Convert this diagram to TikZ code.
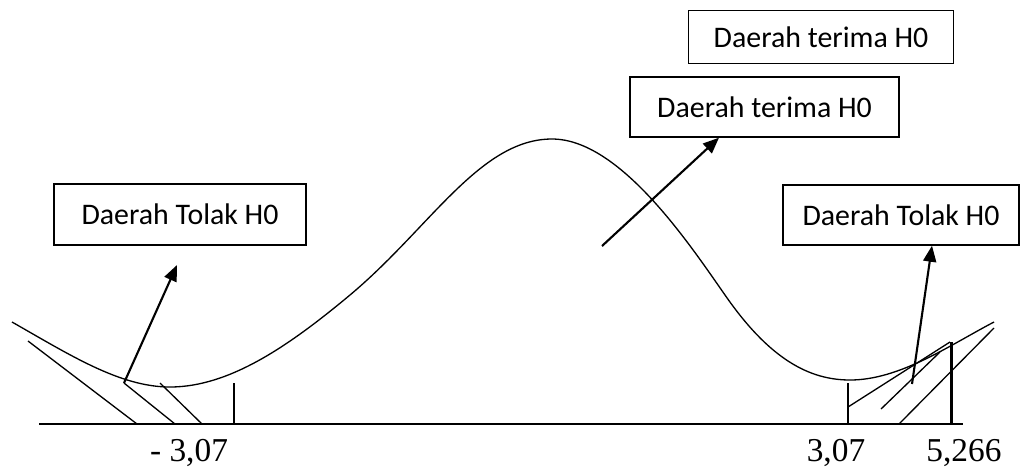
\documentclass[tikz,border=0pt]{standalone}
\usepackage{fontspec}
\setmainfont{Liberation Serif}
\newfontfamily\boxfont{Carlito}
\usepackage{tikz}
\usetikzlibrary{arrows.meta,positioning}

\begin{document}
\begin{tikzpicture}[x=0.02cm,y=-0.02cm,
  regionbox/.style={draw,line width=0.8pt,align=center,inner sep=0pt,font=\boxfont\fontsize{17}{20}\selectfont},
  pointer/.style={-{Triangle[length=3.2mm,width=2.6mm]},line width=1.2pt},
  thin/.style={line width=0.75pt},
  axislabel/.style={font=\fontsize{19}{22}\selectfont}
]
\useasboundingbox (0,0) rectangle (1024,468);
% boxes
\node[regionbox,minimum width=5.3cm,minimum height=1.06cm] (terima1) at (821,37) {Daerah terima H0};
\node[regionbox,minimum width=5.38cm,minimum height=1.2cm] (terima2) at (764.5,107) {Daerah terima H0};
\node[regionbox,minimum width=5.04cm,minimum height=1.22cm] (tolakL) at (180,214.5) {Daerah Tolak H0};
\node[regionbox,minimum width=4.72cm,minimum height=1.2cm] (tolakR) at (901,215) {Daerah Tolak H0};

% curve and axis
\draw[thin] (12,322) .. controls (70,355) and (120,387) .. (170,387)
  .. controls (230,387) and (290,345) .. (350,295)
  .. controls (430,228) and (480,139) .. (552,139)
  .. controls (620,139) and (690,245) .. (725,295)
  .. controls (770,360) and (810,380) .. (850,380)
  .. controls (900,380) and (950,345) .. (994,322);
\draw[thin] (39,424) -- (963,424);
\draw[thin] (234,383) -- (234,424);
\draw[thin] (848,383) -- (848,424);
\draw[line width=1.7pt] (951,342) -- (951,424);

% hatching
\draw[thin] (28,341) -- (137,424);
\draw[thin] (124,383) -- (175,424);
\draw[thin] (160,383) -- (202,424);
\draw[thin] (848,407) -- (950,342);
\draw[thin] (881,409) -- (940,352);
\draw[thin] (899,424) -- (994,328);

% arrows
\coordinate (lefttail) at (124,383);
\coordinate (lefttip) at (177,265);
\coordinate (midtail) at (602,246);
\coordinate (righttail) at (912,384);
\draw[pointer] (lefttail) -- (lefttip);
\draw[pointer] (midtail) -- (terima2.south -| 719,0);
\draw[pointer] (righttail) -- (tolakR.south -| 932,0);

% values
\node[axislabel] (lowcrit) at (189,453) {- 3,07};
\node[axislabel] (upcrit) at (836,453) {3,07};
\node[axislabel] (tval) at (964,453) {5,266};
\end{tikzpicture}
\end{document}
